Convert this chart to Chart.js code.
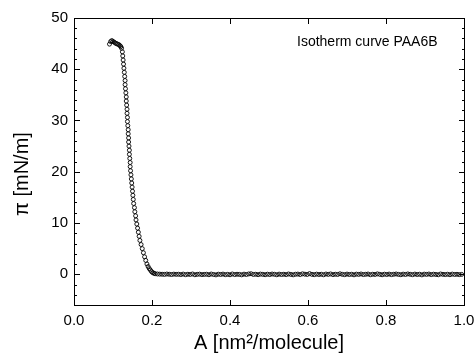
<!DOCTYPE html>
<html>
<head>
<meta charset="utf-8">
<script src="https://cdn.jsdelivr.net/npm/chart.js@4"></script>
<style>
  html, body { margin: 0; padding: 0; background: #fff; }
  #wrap { width: 475px; height: 358px; position: relative; }
</style>
</head>
<body>
<div id="wrap"><canvas id="isotherm"></canvas></div>
<script>
// steep part of the isotherm (area in nm^2/molecule, pressure in mN/m)
const riseArea = [
  0.091, 0.094, 0.097, 0.100, 0.103, 0.106, 0.109, 0.112, 0.115, 0.118, 0.120, 0.122,
  0.124, 0.125, 0.126, 0.127, 0.128, 0.129, 0.130, 0.131, 0.131, 0.132,
  0.133, 0.134, 0.134, 0.135, 0.136, 0.136, 0.137, 0.137, 0.138, 0.139,
  0.139, 0.140, 0.140, 0.141, 0.142, 0.142, 0.143, 0.144, 0.144, 0.145,
  0.146, 0.147, 0.148, 0.149, 0.150, 0.151, 0.152, 0.153, 0.155, 0.156,
  0.158, 0.159, 0.161, 0.163, 0.165, 0.167, 0.169, 0.172, 0.175, 0.178,
  0.181, 0.184, 0.187, 0.190, 0.193, 0.196, 0.199, 0.202, 0.205, 0.208
];
const risePressure = [
  44.9, 45.4, 45.6, 45.4, 45.3, 45.1, 45.0, 44.9, 44.8, 44.6, 44.4, 44.1,
  43.4, 42.6, 41.8, 41.0, 40.2, 39.4, 38.6, 37.8, 37.0, 36.2,
  35.4, 34.6, 33.8, 33.0, 32.2, 31.4, 30.6, 29.8, 29.0, 28.2,
  27.4, 26.6, 25.8, 25.0, 24.2, 23.4, 22.6, 21.8, 21.0, 20.2,
  19.4, 18.6, 17.8, 17.0, 16.2, 15.4, 14.6, 13.8, 13.0, 12.2,
  11.4, 10.6, 9.8, 9.0, 8.2, 7.4, 6.6, 5.8, 5.0, 4.2,
  3.4, 2.7, 2.0, 1.5, 1.1, 0.8, 0.5, 0.3, 0.2, 0.1
];

// flat part (gas phase), pressure stays around zero
const flatArea = [
  0.214, 0.220, 0.226, 0.232, 0.238, 0.244, 0.250, 0.256, 0.262, 0.268,
  0.274, 0.280, 0.286, 0.292, 0.298, 0.304, 0.310, 0.316, 0.322, 0.328,
  0.334, 0.340, 0.346, 0.352, 0.358, 0.364, 0.370, 0.376, 0.382, 0.388,
  0.394, 0.400, 0.406, 0.412, 0.418, 0.424, 0.430, 0.436, 0.442, 0.448,
  0.454, 0.460, 0.466, 0.472, 0.478, 0.484, 0.490, 0.496, 0.502, 0.508,
  0.514, 0.520, 0.526, 0.532, 0.538, 0.544, 0.550, 0.556, 0.562, 0.568,
  0.574, 0.580, 0.586, 0.592, 0.598, 0.604, 0.610, 0.616, 0.622, 0.628,
  0.634, 0.640, 0.646, 0.652, 0.658, 0.664, 0.670, 0.676, 0.682, 0.688,
  0.694, 0.700, 0.706, 0.712, 0.718, 0.724, 0.730, 0.736, 0.742, 0.748,
  0.754, 0.760, 0.766, 0.772, 0.778, 0.784, 0.790, 0.796, 0.802, 0.808,
  0.814, 0.820, 0.826, 0.832, 0.838, 0.844, 0.850, 0.856, 0.862, 0.868,
  0.874, 0.880, 0.886, 0.892, 0.898, 0.904, 0.910, 0.916, 0.922, 0.928,
  0.934, 0.940, 0.946, 0.952, 0.958, 0.964, 0.970, 0.976, 0.982, 0.988,
  0.994
];
const flatPressure = [
  0.05, 0.02, 0.0, -0.03, 0.04, 0.0, -0.05, 0.02, -0.02, 0.0,
  -0.06, 0.03, -0.08, 0.0, -0.04, 0.05, -0.1, -0.02, 0.02, -0.07,
  -0.03, 0.0, -0.09, 0.04, -0.05, -0.12, 0.01, -0.04, 0.03, -0.08,
  -0.02, -0.1, 0.05, -0.06, 0.0, -0.03, -0.11, 0.02, -0.05, 0.06,
  0.1, -0.04, 0.0, -0.08, 0.03, -0.02, -0.09, 0.01, -0.06, 0.04,
  -0.01, -0.1, 0.02, -0.05, 0.0, -0.07, 0.05, -0.03, -0.11, 0.0,
  0.03, -0.06, 0.08, 0.01, -0.04, 0.12, -0.02, -0.08, 0.02, -0.05,
  0.0, -0.1, 0.04, -0.03, 0.06, -0.07, 0.0, -0.04, 0.09, -0.02,
  -0.08, 0.03, -0.05, 0.0, -0.11, 0.02, -0.03, 0.05, -0.06, -0.01,
  0.04, -0.09, 0.0, -0.04, 0.07, -0.02, -0.1, 0.01, -0.05, 0.03,
  -0.07, 0.0, 0.05, -0.03, -0.09, 0.02, -0.04, 0.06, -0.01, -0.08,
  0.03, -0.05, 0.0, -0.12, 0.02, -0.03, 0.04, -0.07, 0.01, -0.04,
  -0.1, 0.05, -0.02, -0.06, 0.0, -0.09, 0.03, -0.04, -0.01, -0.07,
  -0.03
];

const xTicks = [0, 0.2, 0.4, 0.6, 0.8, 1.0];
const yTicks = [0, 10, 20, 30, 40, 50];
const yMinorTicks = [-4, -2, 2, 4, 6, 8, 12, 14, 16, 18, 22, 24, 26, 28, 32, 34, 36, 38, 42, 44, 46, 48];
const curveLabel = 'Isotherm curve PAA6B';
const yTitle = 'π [mN/m]';

const allArea = riseArea.concat(flatArea);
const allPressure = risePressure.concat(flatPressure);
const points = allArea.map((a, i) => ({ x: a, y: allPressure[i] }));

const FONT = '"Liberation Sans", Arial, sans-serif';

// frame round the plot, inward ticks on all four sides, y title and the text label
const frameTicks = {
  id: 'frameTicks',
  afterDraw(chart) {
    const { ctx, chartArea: ca, scales: { x, y } } = chart;
    const L = Math.round(ca.left), R = Math.round(ca.right);
    const T = Math.round(ca.top), B = Math.round(ca.bottom);
    ctx.save();
    ctx.fillStyle = '#000';
    // frame
    ctx.fillRect(L, T, R - L + 1, 1);
    ctx.fillRect(L, B, R - L + 1, 1);
    ctx.fillRect(L, T, 1, B - T + 1);
    ctx.fillRect(R, T, 1, B - T + 1);
    // x ticks (bottom and top)
    xTicks.forEach(v => {
      const px = Math.round(x.getPixelForValue(v));
      ctx.fillRect(px, B - 5, 1, 6);
      ctx.fillRect(px, T, 1, 6);
    });
    // y ticks (left and right)
    yTicks.forEach(v => {
      const py = Math.round(y.getPixelForValue(v));
      ctx.fillRect(L, py, 6, 1);
      ctx.fillRect(R - 5, py, 6, 1);
    });
    yMinorTicks.forEach(v => {
      const py = Math.round(y.getPixelForValue(v));
      ctx.fillRect(L, py, 3, 1);
      ctx.fillRect(R - 2, py, 3, 1);
    });

    ctx.font = '14px ' + FONT;
    ctx.textBaseline = 'alphabetic';
    ctx.textAlign = 'left';
    ctx.fillText(curveLabel, R - 167, T + 28);

    ctx.font = '20px ' + FONT;
    ctx.textAlign = 'center';
    ctx.textBaseline = 'middle';
    ctx.translate(22, 174);
    ctx.rotate(-Math.PI / 2);
    ctx.fillText(yTitle, 0, 0);
    ctx.restore();
  }
};

new Chart(document.getElementById('isotherm'), {
  type: 'scatter',
  data: {
    datasets: [{
      data: points,
      showLine: false,
      pointStyle: 'circle',
      pointRadius: 2,
      pointBorderWidth: 0.9,
      pointBorderColor: '#000',
      pointBackgroundColor: 'rgba(0,0,0,0)',
      pointHoverRadius: 2
    }]
  },
  options: {
    responsive: true,
    maintainAspectRatio: false,
    animation: false,
    layout: { padding: { top: 18, right: 11, left: 0, bottom: 0 } },
    plugins: {
      legend: { display: false },
      tooltip: { enabled: false }
    },
    scales: {
      x: {
        type: 'linear',
        min: 0,
        max: 1,
        afterBuildTicks: s => { s.ticks = xTicks.map(v => ({ value: v })); },
        afterFit: s => { s.height = 53; s.paddingLeft = 0; s.paddingRight = 0; },
        grid: { display: false, drawTicks: false },
        border: { display: false },
        ticks: {
          color: '#000',
          font: { family: FONT, size: 15 },
          padding: 7,
          maxRotation: 0,
          autoSkip: false,
          callback: v => v.toFixed(1)
        },
        title: {
          display: true,
          text: 'A [nm²/molecule]',
          color: '#000',
          font: { family: FONT, size: 20 },
          padding: { top: 0, bottom: 3 }
        }
      },
      y: {
        type: 'linear',
        min: -6,
        max: 50,
        afterBuildTicks: s => { s.ticks = yTicks.map(v => ({ value: v })); },
        afterFit: s => { s.width = 74; s.paddingTop = 0; s.paddingBottom = 0; },
        grid: { display: false, drawTicks: false },
        border: { display: false },
        ticks: {
          color: '#000',
          font: { family: FONT, size: 15 },
          padding: 6,
          autoSkip: false
        }
      }
    }
  },
  plugins: [frameTicks]
});
</script>
</body>
</html>
